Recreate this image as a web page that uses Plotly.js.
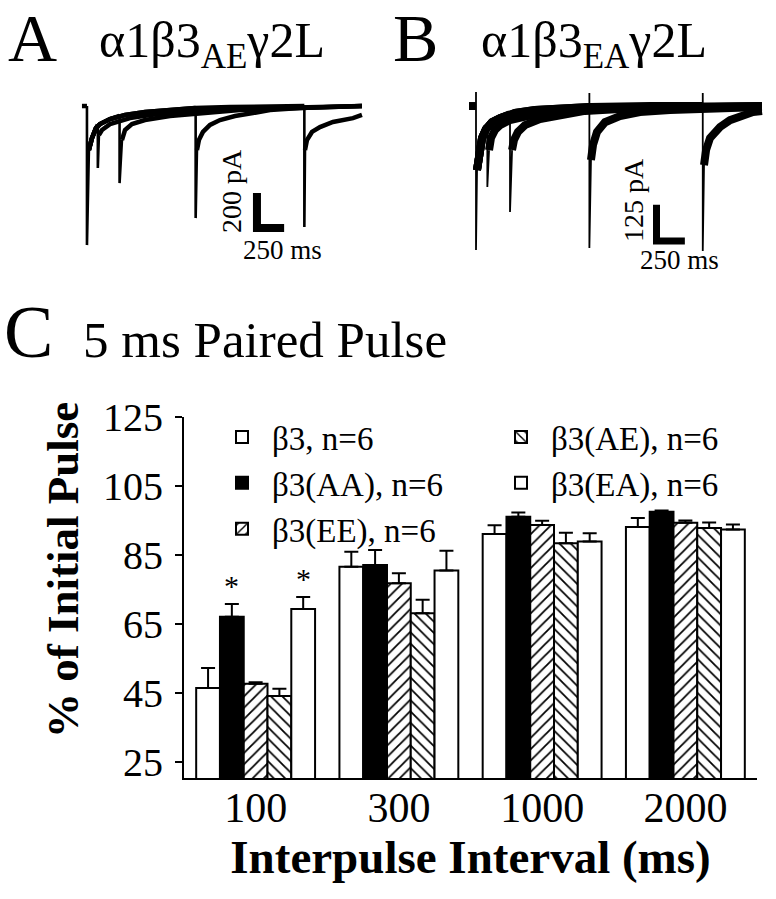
<!DOCTYPE html>
<html><head><meta charset="utf-8">
<script src="https://cdn.plot.ly/plotly-3.0.1.min.js"></script>
<style>html,body{margin:0;padding:0;background:#fff}#chart{width:776px;height:899px}</style>
</head><body><div id="chart"></div>
<script>
// ---------- Panel C data (% of initial pulse, mean and SEM) ----------
const intervals = ['100', '300', '1000', '2000'];
const seriesNames = ['β3, n=6', 'β3(AA), n=6', 'β3(EE), n=6', 'β3(AE), n=6', 'β3(EA), n=6'];
const meanB3 = [46.4, 81.6, 91.1, 93.1];
const meanAA = [67.1, 82.1, 96.1, 97.5];
const meanEE = [47.6, 76.8, 93.7, 94.3];
const meanAE = [44.1, 68.1, 88.4, 92.8];
const meanEA = [69.3, 80.5, 88.9, 92.4];
const semB3 = [5.8, 4.3, 2.5, 2.6];
const semAA = [3.7, 4.3, 1.2, 0.4];
const semEE = [0.5, 2.9, 1.2, 0.7];
const semAE = [2.1, 3.9, 3.0, 1.6];
const semEA = [3.5, 5.7, 2.4, 1.4];
const sigB3 = [false, false, false, false];
const sigAA = [true, false, false, false];
const sigEE = [false, false, false, false];
const sigAE = [false, false, false, false];
const sigEA = [true, false, false, false];
const yTicks = [25, 45, 65, 85, 105, 125];

// ---------- Panel A traces (time ms, current pA) ----------
const aPulseTimes = [100, 300, 1000, 2000];
const aPreT = [-46, 0];
const aPreI = [0, 0];
const aInitialPeak = -794;
const aFirstT = [18, 46, 83, 120, 212, 350, 534, 764, 994, 1316, 1776, 2530];
const aFirstI = [-251, -183, -126, -103, -74, -51, -34, -23, -11, -6, 0, 3];
const aPrePulse = [-108, -57, -11, 0];
const aPeaks = [-354, -440, -640, -691];
const aRec100T = [110, 138, 212, 396, 580, 856, 1316, 1960, 2530];
const aRec100I = [-166, -137, -103, -69, -51, -34, -17, -6, 0];
const aRec300T = [322, 350, 414, 534, 764, 1040, 1408, 1960, 2530];
const aRec300I = [-194, -137, -103, -80, -57, -40, -23, -11, 0];
const aRec1000T = [1012, 1030, 1067, 1132, 1224, 1362, 1527, 1684, 1960, 2530];
const aRec1000I = [-251, -194, -148, -108, -80, -57, -40, -23, -11, 0];
const aRec2000T = [2006, 2024, 2070, 2144, 2263, 2447, 2530];
const aRec2000I = [-251, -194, -148, -120, -91, -69, -51];
const aScaleBar = [250, 200]; // ms, pA

// ---------- Panel B traces (time ms, current pA) ----------
const bPulseTimes = [100, 300, 1000, 2000];
const bPreT = [-62, 0];
const bPreI = [0, 0];
const bInitialTop = 49;
const bInitialPeak = -500;
const bFirstT = [9, 26, 53, 88, 141, 212, 344, 520, 741, 1005, 1535, 1976, 2522];
const bFirstI = [-222, -153, -111, -80, -56, -42, -24, -14, -7, -3, 0, 0, 0];
const bPrePulse = [-73, -28, -3, 0];
const bSpikeTop = [-73, -28, 45, 45];
const bPeaks = [-281, -368, -493, -503];
const bRec100T = [115, 132, 168, 212, 300, 432, 609, 829, 1094, 1535, 2522];
const bRec100I = [-153, -111, -83, -66, -49, -35, -21, -14, -7, -3, 0];
const bRec300T = [318, 335, 370, 432, 564, 741, 961, 1270, 1799, 2522];
const bRec300I = [-153, -118, -90, -66, -45, -31, -17, -10, -3, 0];
const bRec1000T = [1014, 1032, 1067, 1138, 1270, 1446, 1711, 2064, 2522];
const bRec1000I = [-187, -135, -90, -56, -35, -21, -14, -7, -3];
const bRec2000T = [2011, 2029, 2064, 2152, 2240, 2355, 2443, 2522];
const bRec2000I = [-205, -153, -111, -73, -49, -31, -21, -17];
const bScaleBar = [250, 125]; // ms, pA

// ---------- layout helpers ----------
const W = 776, H = 899;
const px = v => v / W;
const py = v => 1 - v / H;
const SERIF = 'Liberation Serif, Times New Roman, serif';
const BARGAP = 0.17;

const traces = [];

// Panel C bars
const means = [meanB3, meanAA, meanEE, meanAE, meanEA];
const sems = [semB3, semAA, semEE, semAE, semEA];
const sigs = [sigB3, sigAA, sigEE, sigAE, sigEA];
const fills = ['white', 'black', 'white', 'white', 'white'];
const patterns = ['', '', '/', '\\', ''];
const legendOf = ['legend', 'legend', 'legend', 'legend2', 'legend2'];
means.forEach((m, i) => {
  traces.push({
    type: 'bar', x: intervals, y: m, name: seriesNames[i],
    xaxis: 'x', yaxis: 'y', legend: legendOf[i],
    marker: {
      color: fills[i], line: {color: 'black', width: 2},
      pattern: {shape: patterns[i], fgcolor: 'black', bgcolor: 'white', size: 8, solidity: 0.22}
    },
    error_y: {type: 'data', symmetric: false, array: sems[i], arrayminus: sems[i].map(() => 0),
      color: 'black', thickness: 2, width: 7}
  });
});

// Current traces
function addSweeps(p, ax, ay, decayW, spikeW) {
  const line = w => ({color: 'black', width: w});
  traces.push({type: 'scatter', mode: 'lines', x: p.preT, y: p.preI, xaxis: ax, yaxis: ay,
    line: line(decayW), showlegend: false, hoverinfo: 'skip'});
  traces.push({type: 'scatter', mode: 'lines',
    x: [0, 0, 0, p.firstT[0]], y: [p.preI[p.preI.length - 1], p.initialTop, p.initialPeak, p.firstI[0]],
    xaxis: ax, yaxis: ay, line: line(spikeW), showlegend: false, hoverinfo: 'skip'});
  p.pulseTimes.forEach((t, k) => {
    const dx = [], dy = [];
    p.firstT.forEach((ft, j) => { if (ft < t) { dx.push(ft); dy.push(p.firstI[j]); } });
    dx.push(t); dy.push(p.prePulse[k]);
    traces.push({type: 'scatter', mode: 'lines', x: dx, y: dy, xaxis: ax, yaxis: ay,
      line: line(decayW), showlegend: false, hoverinfo: 'skip'});
    traces.push({type: 'scatter', mode: 'lines',
      x: [t, t, t, p.recT[k][0]], y: [p.prePulse[k], p.spikeTop[k], p.peaks[k], p.recI[k][0]],
      xaxis: ax, yaxis: ay, line: line(spikeW), showlegend: false, hoverinfo: 'skip'});
    traces.push({type: 'scatter', mode: 'lines', x: p.recT[k], y: p.recI[k], xaxis: ax, yaxis: ay,
      line: line(decayW), showlegend: false, hoverinfo: 'skip'});
  });
}
addSweeps({pulseTimes: aPulseTimes, preT: aPreT, preI: aPreI, initialTop: 0, initialPeak: aInitialPeak,
  firstT: aFirstT, firstI: aFirstI, prePulse: aPrePulse, spikeTop: aPrePulse, peaks: aPeaks,
  recT: [aRec100T, aRec300T, aRec1000T, aRec2000T], recI: [aRec100I, aRec300I, aRec1000I, aRec2000I]},
  'x2', 'y2', 4.5, 2.6);
addSweeps({pulseTimes: bPulseTimes, preT: bPreT, preI: bPreI, initialTop: bInitialTop, initialPeak: bInitialPeak,
  firstT: bFirstT, firstI: bFirstI, prePulse: bPrePulse, spikeTop: bSpikeTop, peaks: bPeaks,
  recT: [bRec100T, bRec300T, bRec1000T, bRec2000T], recI: [bRec100I, bRec300I, bRec1000I, bRec2000I]},
  'x3', 'y3', 8, 1.8);

// scale bars (L shapes) positioned at an anchor in data units
const aBarAnchor = [1564, -697];
const bBarAnchor = [1592, -468];
traces.push({type: 'scatter', mode: 'lines', xaxis: 'x2', yaxis: 'y2', showlegend: false, hoverinfo: 'skip',
  x: [aBarAnchor[0], aBarAnchor[0], aBarAnchor[0] + aScaleBar[0]],
  y: [aBarAnchor[1] + aScaleBar[1], aBarAnchor[1], aBarAnchor[1]], line: {color: 'black', width: 8}});
traces.push({type: 'scatter', mode: 'lines', xaxis: 'x3', yaxis: 'y3', showlegend: false, hoverinfo: 'skip',
  x: [bBarAnchor[0], bBarAnchor[0], bBarAnchor[0] + bScaleBar[0]],
  y: [bBarAnchor[1] + bScaleBar[1], bBarAnchor[1], bBarAnchor[1]], line: {color: 'black', width: 7}});

// significance asterisks
const annotations = [];
const groupW = 1 - BARGAP, barW = groupW / means.length;
sigs.forEach((s, i) => s.forEach((flag, j) => {
  if (!flag) return;
  annotations.push({xref: 'x', yref: 'y', x: j - groupW / 2 + (i + 0.5) * barW, y: means[i][j] + sems[i][j],
    text: '*', showarrow: false, yanchor: 'bottom', yshift: 0, font: {family: SERIF, size: 30, color: 'black'}});
}));

function txt(text, x, y, size, opts) {
  return Object.assign({xref: 'paper', yref: 'paper', x: px(x), y: py(y), text: text, showarrow: false,
    xanchor: 'left', yanchor: 'middle', font: {family: SERIF, size: size, color: 'black'}}, opts || {});
}
annotations.push(txt('A', 6, 38, 68));
annotations.push(txt('α1β3<sub>AE</sub>γ2L', 97, 44, 50));
annotations.push(txt('B', 391, 38, 68));
annotations.push(txt('α1β3<sub>EA</sub>γ2L', 479, 44, 50));
annotations.push(txt('C', 2, 332, 74));
annotations.push(txt('5 ms Paired Pulse', 81, 340, 51));
annotations.push(txt('200 pA', 231, 191, 28, {xanchor: 'center', textangle: -90}));
annotations.push(txt('250 ms', 282, 250, 27, {xanchor: 'center'}));
annotations.push(txt('125 pA', 633, 200, 28, {xanchor: 'center', textangle: -90}));
annotations.push(txt('250 ms', 679, 260, 27, {xanchor: 'center'}));
// y axis title (placed off-centre as in the original figure)
annotations.push(txt('% of Initial Pulse', 63, 570, 45,
  {xanchor: 'center', textangle: -90, font: {family: SERIF, size: 45, weight: 'bold', color: 'black'}}));

const legendStyle = {orientation: 'v', xanchor: 'left', yanchor: 'top', itemwidth: 50,
  bgcolor: 'rgba(0,0,0,0)', font: {family: SERIF, size: 33, color: 'black'}, tracegroupgap: 0};
const hidden = {visible: false, fixedrange: true};
const layout = {
  width: W, height: H, margin: {l: 0, r: 0, t: 0, b: 0},
  paper_bgcolor: 'white', plot_bgcolor: 'rgba(0,0,0,0)',
  font: {family: SERIF, color: 'black'},
  barmode: 'group', bargap: BARGAP, bargroupgap: 0,
  showlegend: true,
  legend: Object.assign({x: px(212), y: py(409)}, legendStyle),
  legend2: Object.assign({x: px(491), y: py(409)}, legendStyle),
  xaxis: {domain: [px(184), px(757)], anchor: 'y', type: 'category', range: [-0.5, 3.5],
    showline: true, linecolor: 'black', linewidth: 2, ticks: '', showgrid: false, zeroline: false,
    tickfont: {family: SERIF, size: 42, color: 'black'}, ticklabelstandoff: -8,
    title: {text: 'Interpulse Interval (ms)', standoff: 6, font: {family: SERIF, size: 47, weight: 'bold', color: 'black'}}},
  yaxis: {domain: [py(778), py(417)], anchor: 'x', range: [20.3, 125], tickvals: yTicks,
    showline: true, linecolor: 'black', linewidth: 2, ticks: 'outside', ticklen: 7, tickwidth: 2, tickcolor: 'black',
    showgrid: false, zeroline: false, tickfont: {family: SERIF, size: 40, color: 'black'}, ticklabelstandoff: 4},
  xaxis2: Object.assign({domain: [px(80), px(370)], anchor: 'y2', range: [-64, 2604]}, hidden),
  yaxis2: Object.assign({domain: [py(250), py(95)], anchor: 'x2', range: [-822, 63]}, hidden),
  xaxis3: Object.assign({domain: [px(465), px(770)], anchor: 'y3', range: [-97, 2593]}, hidden),
  yaxis3: Object.assign({domain: [py(255), py(85)], anchor: 'x3', range: [-517, 73]}, hidden),
  annotations: annotations
};
Plotly.newPlot('chart', traces, layout, {displayModeBar: false, staticPlot: true});
</script>
</body></html>
